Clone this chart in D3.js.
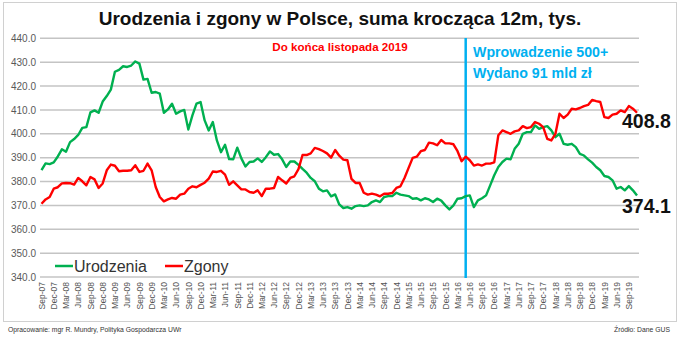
<!DOCTYPE html>
<html>
<head>
<meta charset="utf-8">
<script src="https://cdn.jsdelivr.net/npm/d3@7/dist/d3.min.js"></script>
<style>
  html, body { margin: 0; padding: 0; background: #fff; }
  svg { display: block; font-family: "Liberation Sans", Arial, sans-serif; }
</style>
</head>
<body>
<svg id="chart" width="680" height="337"></svg>
<script>
// Monthly categories, Sep-07 .. Nov-19 (rolling 12-month sums, thousands)
const monthNames = ["Jan","Feb","Mar","Apr","May","Jun","Jul","Aug","Sep","Oct","Nov","Dec"];
const categories = [];
for (let y = 2007, m = 8; y < 2019 || (y === 2019 && m <= 10); m++) {
  if (m === 12) { m = 0; y++; }
  categories.push(monthNames[m] + "-" + String(y).slice(2));
}

const urodzenia = [
  384.8, 387.6, 387.3, 388.0, 390.5, 393.5, 392.5, 396.5, 397.8, 399.5, 402.5, 402.8,
  409.0, 409.8, 408.8, 413.5, 415.8, 418.5, 426.0, 426.8, 428.3, 428.0, 428.6, 430.3,
  429.4, 422.7, 423.0, 417.2, 417.5, 416.8, 408.8, 410.2, 412.6, 408.4, 409.4, 410.0,
  401.8, 407.7, 412.6, 413.3, 405.6, 401.4, 404.9, 397.2, 392.3, 395.4, 389.4, 389.3,
  394.2, 389.7, 386.3, 388.2, 388.4, 389.7, 388.2, 390.2, 392.6, 391.2, 391.5, 389.3,
  386.1, 388.4, 388.4, 387.0, 385.3, 383.7, 381.5, 380.1, 377.0, 375.9, 376.3, 373.8,
  374.6, 370.4, 368.9, 369.3, 368.6, 369.7, 370.0, 369.7, 370.0, 371.4, 372.1, 371.4,
  373.5, 373.9, 373.9, 375.3, 374.5, 374.2, 373.9, 372.8, 373.0, 372.1, 373.0, 372.5,
  371.4, 372.8, 372.0, 370.0, 368.3, 370.0, 372.8, 373.0, 373.9, 374.2, 369.3, 372.1,
  373.0, 374.2, 378.4, 382.6, 386.1, 388.2, 389.6, 389.3, 393.7, 395.8, 400.0, 400.7,
  400.7, 403.5, 402.1, 402.8, 403.2, 401.4, 398.6, 400.0, 395.8, 395.4, 395.8, 394.4,
  391.6, 390.9, 389.3, 387.9, 386.1, 384.7, 382.3, 381.9, 380.5, 377.0, 377.7, 376.3,
  378.1, 376.3, 374.1
];

const zgony = [
  370.7, 372.5, 373.5, 377.0, 377.6, 379.2, 379.4, 379.3, 378.7, 381.5, 380.1, 378.4,
  381.9, 380.9, 377.3, 379.2, 384.7, 387.1, 386.6, 384.3, 384.5, 384.5, 384.7, 386.8,
  384.0, 384.5, 387.5, 384.7, 377.7, 373.5, 371.7, 372.5, 373.1, 372.8, 374.5, 374.9,
  377.0, 378.0, 377.6, 378.6, 379.5, 381.2, 384.2, 384.0, 384.5, 382.9, 378.6, 380.1,
  378.4, 376.7, 376.7, 375.6, 375.3, 376.3, 373.9, 377.0, 377.0, 377.3, 381.9, 380.5,
  379.2, 381.5, 382.2, 385.2, 391.1, 391.1, 391.8, 394.1, 393.6, 392.8, 391.8, 390.0,
  393.2, 390.8, 389.2, 388.9, 381.1, 379.4, 379.4, 375.3, 374.5, 374.9, 374.5, 373.8,
  374.9, 374.9, 375.2, 377.3, 378.0, 381.5, 385.7, 389.9, 390.4, 392.7, 393.2, 396.3,
  396.0, 395.2, 397.4, 396.0, 396.0, 395.6, 392.7, 388.5, 390.4, 388.9, 386.7, 387.2,
  386.7, 387.5, 387.5, 388.0, 399.4, 401.4, 400.7, 400.0, 401.0, 401.4, 403.2, 402.4,
  402.8, 404.9, 404.2, 402.8, 397.9, 397.2, 400.0, 408.4, 406.6, 408.0, 410.5, 410.2,
  410.8, 411.6, 412.1, 414.2, 413.7, 413.3, 407.0, 406.6, 408.0, 408.4, 409.8, 409.1,
  411.6, 410.5, 408.8
];

const yTicks = [340, 350, 360, 370, 380, 390, 400, 410, 420, 430, 440];
const tickLabels = categories.filter((d, i) => i % 3 === 0);
const markerMonth = "May-16";

const svg = d3.select("#chart");

// chart-area frame
svg.append("rect")
  .attr("x", 3.5).attr("y", 2.5).attr("width", 673).attr("height", 319)
  .attr("fill", "#fff").attr("stroke", "#d0d0d0").attr("stroke-width", 1);

const x = d3.scalePoint().domain(categories).range([41.5, 637]);
const y = d3.scaleLinear().domain([340, 440]).range([277, 38.3]);

// horizontal gridlines
svg.append("g").selectAll("line").data(yTicks).join("line")
  .attr("x1", 40).attr("x2", 639)
  .attr("y1", d => y(d)).attr("y2", d => y(d))
  .attr("stroke", "#c4c4c4").attr("stroke-width", 1.5);

// y axis labels
const yAxis = d3.axisLeft(y).tickValues(yTicks).tickFormat(d3.format(".1f")).tickSize(0).tickPadding(0);
const gy = svg.append("g").attr("transform", "translate(36,0)").call(yAxis);
gy.select(".domain").remove();
gy.selectAll("text")
  .attr("font-family", "Liberation Sans, Arial, sans-serif")
  .attr("font-size", 10).attr("fill", "#595959");

// x axis labels (rotated)
const xAxis = d3.axisBottom(x).tickValues(tickLabels).tickSize(0).tickPadding(0);
const gx = svg.append("g").attr("transform", "translate(0,282)").call(xAxis);
gx.select(".domain").remove();
gx.selectAll("text")
  .attr("font-family", "Liberation Sans, Arial, sans-serif")
  .attr("font-size", 8.5).attr("fill", "#555")
  .attr("text-anchor", "end")
  .attr("dy", "0.32em")
  .attr("transform", "rotate(-90)")
  .attr("x", 0).attr("y", 0);

// 500+ marker
svg.append("line")
  .attr("x1", x(markerMonth)).attr("x2", x(markerMonth))
  .attr("y1", 38).attr("y2", 278)
  .attr("stroke", "#00b0f0").attr("stroke-width", 2.5);

// series lines
const line = d3.line()
  .x((d, i) => x(categories[i]))
  .y(d => y(d))
  .curve(d3.curveLinear);

svg.append("path").datum(urodzenia)
  .attr("d", line).attr("fill", "none")
  .attr("stroke", "#00b050").attr("stroke-width", 2.4)
  .attr("stroke-linejoin", "round");

svg.append("path").datum(zgony)
  .attr("d", line).attr("fill", "none")
  .attr("stroke", "#ff0000").attr("stroke-width", 2.4)
  .attr("stroke-linejoin", "round");

// title
svg.append("text")
  .attr("x", 340).attr("y", 25).attr("text-anchor", "middle")
  .attr("font-size", 19).attr("font-weight", "bold").attr("fill", "#111")
  .text("Urodzenia i zgony w Polsce, suma krocząca 12m, tys.");

svg.append("text")
  .attr("x", 340).attr("y", 51).attr("text-anchor", "middle")
  .attr("font-size", 11.6).attr("font-weight", "bold").attr("fill", "#ff0000")
  .text("Do końca listopada 2019");

svg.append("text")
  .attr("x", 473).attr("y", 57)
  .attr("font-size", 14.2).attr("font-weight", "bold").attr("fill", "#00b0f0")
  .text("Wprowadzenie 500+");
svg.append("text")
  .attr("x", 473).attr("y", 78)
  .attr("font-size", 14.2).attr("font-weight", "bold").attr("fill", "#00b0f0")
  .text("Wydano 91 mld zł");

// end values
const last = categories.length - 1;
svg.append("text")
  .attr("x", 622).attr("y", 128)
  .attr("font-size", 19.5).attr("font-weight", "bold").attr("fill", "#111")
  .text(d3.format(".1f")(zgony[last]));
svg.append("text")
  .attr("x", 622).attr("y", 213)
  .attr("font-size", 19.5).attr("font-weight", "bold").attr("fill", "#111")
  .text(d3.format(".1f")(urodzenia[last]));

// legend
const legend = [
  { name: "Urodzenia", color: "#00b050", x: 55 },
  { name: "Zgony", color: "#ff0000", x: 165 }
];
const lg = svg.append("g").selectAll("g").data(legend).join("g")
  .attr("transform", d => `translate(${d.x},266)`);
lg.append("line").attr("x1", 0).attr("x2", 18).attr("y1", 0).attr("y2", 0)
  .attr("stroke", d => d.color).attr("stroke-width", 2.5);
lg.append("text").attr("x", 19).attr("y", 6)
  .attr("font-size", 16).attr("fill", "#333")
  .text(d => d.name);

// footer
svg.append("text")
  .attr("x", 8).attr("y", 332)
  .attr("font-size", 6.8).attr("fill", "#333")
  .text("Opracowanie: mgr R. Mundry, Polityka Gospodarcza UWr");
svg.append("text")
  .attr("x", 670).attr("y", 332).attr("text-anchor", "end")
  .attr("font-size", 6.8).attr("fill", "#333")
  .text("Źródło: Dane GUS");
</script>
</body>
</html>
